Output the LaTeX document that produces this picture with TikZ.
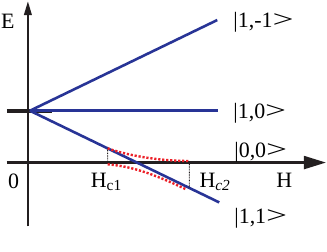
\documentclass[tikz,border=0pt]{standalone}
\usepackage{fontspec}
\setmainfont{Liberation Serif}
\usetikzlibrary{arrows.meta,calc}

\definecolor{axisblack}{RGB}{35,31,32}
\definecolor{levelblue}{RGB}{40,52,150}
\definecolor{dotred}{RGB}{236,32,40}

% ket label, with the wide ">" of the reference
\def\ket#1{|#1\scalebox{1.7}[1.1]{>}}

\begin{document}
\begin{tikzpicture}[x=1pt, y=-1pt, line join=round,
    axis/.style={draw=axisblack, line width=2.2pt},
    level/.style={draw=levelblue, line width=2.6pt},
    zerolevel/.style={draw=axisblack, line width=3.8pt},
    gapcurve/.style={draw=dotred, line width=2.4pt, dash pattern=on 2.2pt off 1.8pt},
    critmark/.style={draw=axisblack, line width=1.2pt, dash pattern=on 0.8pt off 0.8pt},
    lbl/.style={inner sep=0pt, anchor=base west, font=\fontsize{22}{26}\selectfont}]
  % ── axes ──
  \coordinate (Ebot) at (28,226);
  \coordinate (Etop) at (28,0);
  \coordinate (Hleft) at (7,162);
  \coordinate (Hright) at (327,162);
  \draw[axis, -{Triangle[width=7.5pt,length=14pt]}] (Ebot) -- (Etop);
  \draw[axis, -{Triangle[width=13pt,length=22pt]}] (Hleft) -- (Hright);

  % ── zero-field levels: short thick bars ──
  \coordinate (T1a) at (7,110);
  \coordinate (T1b) at (52,110);
  \coordinate (T0b) at (52,162);
  \draw[zerolevel] (T1a) -- (T1b);
  \draw[zerolevel] (Hleft) -- (T0b);

  % ── Zeeman branches of the triplet ──
  \coordinate (O) at (30,110);
  \coordinate (Lm) at (218,19);
  \coordinate (L0) at (219,110);
  \coordinate (Lp) at (220,202);
  \draw[level] (O) -- (Lm);
  \draw[level] (O) -- (L0);
  \draw[level] (O) -- (Lp);

  % ── critical fields ──
  \coordinate (Hc1) at (108,162);
  \coordinate (Hc1up) at ($(O)!0.4105!(Lp)$);
  \coordinate (Hc2) at (190,162);
  \coordinate (Hc2dn) at ($(O)!0.842!(Lp)$);
  \draw[critmark] (Hc1up) -- (Hc1);
  \draw[critmark] (Hc2) -- (Hc2dn);

  % ── red dotted: gap closing between Hc1 and Hc2 ──
  \coordinate (Ra) at (108,163.8);
  \coordinate (Rb) at (187,189);
  \coordinate (Rc) at (190,160.5);
  \draw[gapcurve] (Hc1up) .. controls (135,157) and (165,160.2) .. (Rc);
  \draw[gapcurve] (Ra) .. controls (135,165.8) and (160,176.2) .. (Rb);

  % ── labels ──
  \node[lbl] (lblE) at (1,27) {E};
  \node[lbl] (lblzero) at (8,188) {0};
  \node[lbl] (lblHcone) at (91,187) {H\textsubscript{c1}};
  \node[lbl] (lblHctwo) at (200,187) {H\textsubscript{\textit{c2}}};
  \node[lbl] (lblH) at (277,187) {H};
  \node[lbl] (ketmm) at (234,26) {\ket{1,-1}};
  \node[lbl] (ketone) at (234,118) {\ket{1,0}};
  \node[lbl] (ketzero) at (235,157) {\ket{0,0}};
  \node[lbl] (ketpp) at (235,223) {\ket{1,1}};

  \path[use as bounding box] (0,0) rectangle (327,251);
\end{tikzpicture}
\end{document}
